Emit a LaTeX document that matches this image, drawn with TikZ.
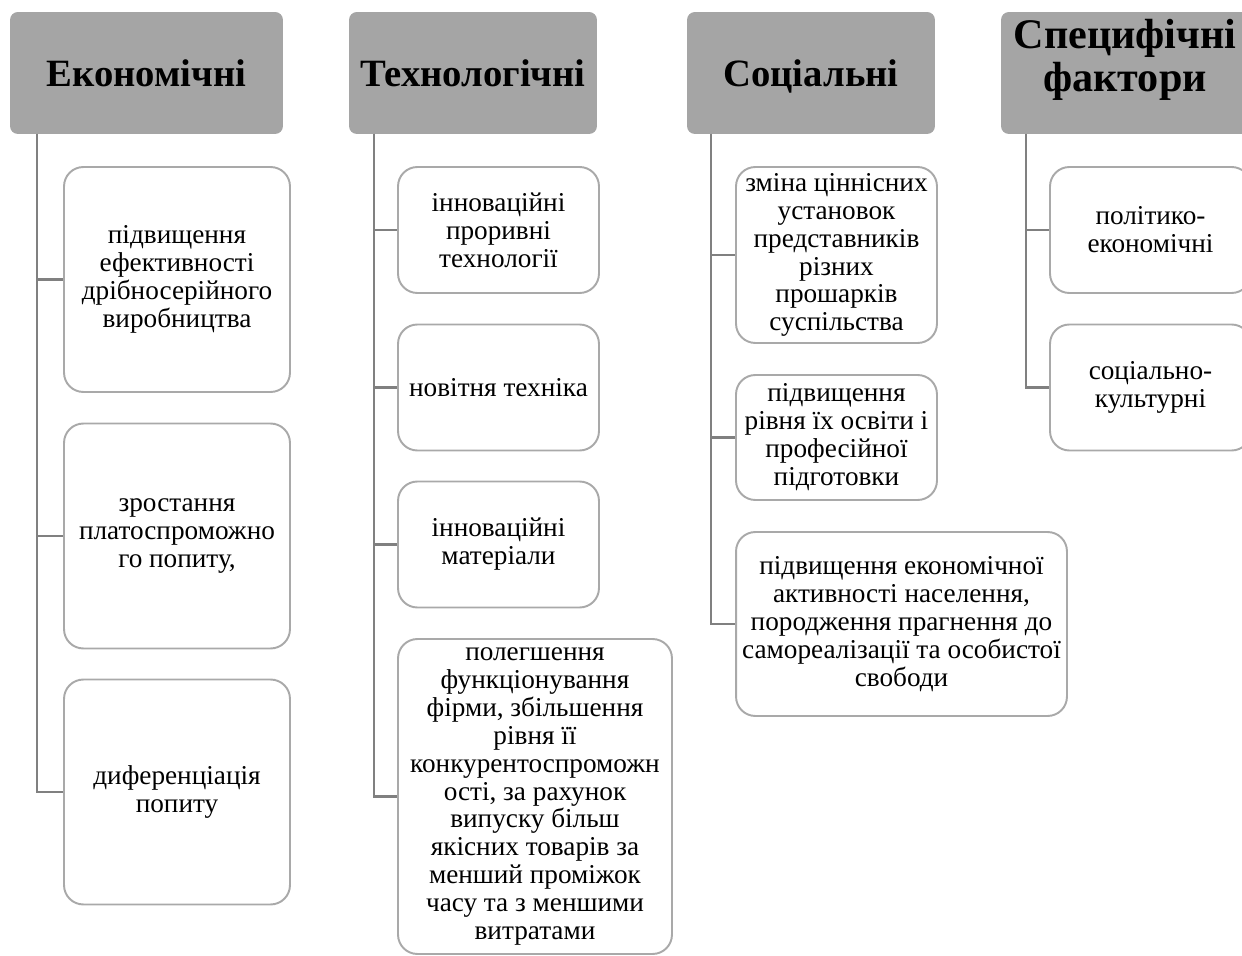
\documentclass[tikz,border=0pt]{standalone}
\usepackage{fontspec}
\setmainfont{Liberation Serif}
\usetikzlibrary{positioning}
\definecolor{headgray}{HTML}{A5A5A5}
\definecolor{boxgray}{HTML}{A9A9A9}
\definecolor{linegray}{HTML}{808080}
\tikzset{
  head/.style={fill=headgray, rounded corners=4.5pt, align=center, inner sep=0pt,
    minimum width=4.96cm, minimum height=2.44cm,
    font=\fontsize{22}{24}\selectfont\bfseries},
  headone/.style={head, text height=15pt, text depth=0pt},
  item/.style={draw=boxgray, line width=1.1pt, fill=white, rounded corners=11pt,
    align=center, inner sep=0pt, font=\fontsize{15.5}{15.9}\selectfont},
  link/.style={draw=linegray, line width=1.5pt},
}

\begin{document}
\begin{tikzpicture}[x=0.02cm, y=-0.02cm]
    % Frame
    \clip (0,0) rectangle (1242,956);

    % Draw headers
    \node[headone, minimum width=5.46cm] (hE) at (146.5,73) {Економічні};
    \node[headone] (hT) at (473,73) {Технологічні};
    \node[headone] (hS) at (811,73) {Соціальні};
    \node[head, text depth=20pt, font=\fontsize{24}{24}\selectfont\bfseries] (hF) at (1125,73)
        {Специфічні\\фактори};

    % Economic factors
    \node[item, minimum width=4.52cm, minimum height=4.5cm] (e1) at (177,279.5)
        {підвищення\\ефективності\\дрібносерійного\\виробництва};
    \node[item, minimum width=4.52cm, minimum height=4.5cm] (e2) at (177,536)
        {зростання\\платоспроможно\\го попиту,};
    \node[item, minimum width=4.52cm, minimum height=4.5cm] (e3) at (177,792)
        {диференціація\\попиту};

    % Technological factors
    \node[item, minimum width=4.02cm, minimum height=2.52cm] (t1) at (498.5,230)
        {інноваційні\\проривні\\технології};
    \node[item, minimum width=4.02cm, minimum height=2.52cm] (t2) at (498.5,387.5)
        {новітня техніка};
    \node[item, minimum width=4.02cm, minimum height=2.52cm] (t3) at (498.5,544.5)
        {інноваційні\\матеріали};
    \node[item, minimum width=5.48cm, minimum height=6.3cm] (t4) at (535,796.5)
        {полегшення\\функціонування\\фірми, збільшення\\рівня її\\конкурентоспроможн\\ості, за рахунок\\випуску більш\\якісних товарів за\\менший проміжок\\часу та з меншими\\витратами};

    % Social factors
    \node[item, minimum width=4.02cm, minimum height=3.52cm] (s1) at (836.5,255)
        {зміна ціннісних\\установок\\представників\\різних\\прошарків\\суспільства};
    \node[item, minimum width=4.02cm, minimum height=2.5cm] (s2) at (836.5,437.5)
        {підвищення\\рівня їх освіти і\\професійної\\підготовки};
    \node[item, minimum width=6.62cm, minimum height=3.68cm] (s3) at (901.5,624)
        {підвищення економічної\\активності населення,\\породження прагнення до\\самореалізації та особистої\\свободи};

    % Specific factors
    \node[item, minimum width=4.02cm, minimum height=2.52cm] (f1) at (1150.5,230)
        {політико-\\економічні};
    \node[item, minimum width=4.02cm, minimum height=2.52cm] (f2) at (1150.5,387.5)
        {соціально-\\культурні};

    % Draw trunks and branches
    \coordinate (eT) at (37,134);
    \coordinate (tT) at (374,134);
    \coordinate (sT) at (711,134);
    \coordinate (fT) at (1026,134);
    \foreach \b in {e1,e2,e3} {
        \draw[link] (eT) |- (\b.west);
    }
    \foreach \b in {t1,t2,t3,t4} {
        \draw[link] (tT) |- (\b.west);
    }
    \foreach \b in {s1,s2,s3} {
        \draw[link] (sT) |- (\b.west);
    }
    \foreach \b in {f1,f2} {
        \draw[link] (fT) |- (\b.west);
    }
\end{tikzpicture}
\end{document}
